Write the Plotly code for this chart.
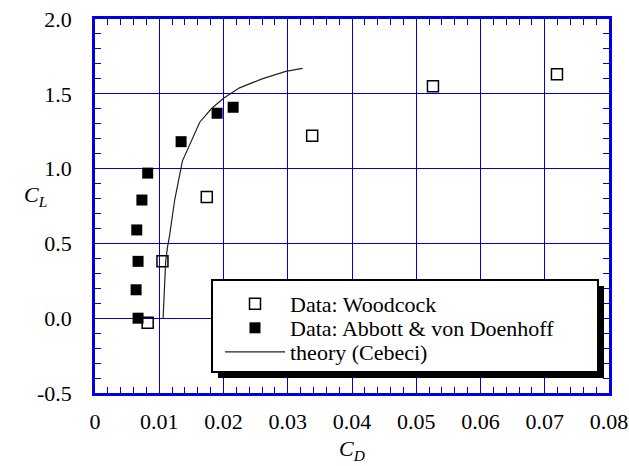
import plotly.graph_objects as go

# Data
wood_cd = [0.0082, 0.0105, 0.0174, 0.0338, 0.0526, 0.0719]
wood_cl = [-0.03, 0.38, 0.81, 1.22, 1.55, 1.63]

abbott_cd = [0.0067, 0.0064, 0.0067, 0.0065, 0.0073, 0.0082, 0.0134, 0.0190, 0.0215]
abbott_cl = [0.0, 0.19, 0.38, 0.59, 0.79, 0.97, 1.18, 1.37, 1.41]

theory_cd = [0.0106, 0.0108, 0.0110, 0.0113, 0.0116, 0.0124, 0.0136, 0.0163,
             0.0181, 0.0200, 0.0225, 0.0260, 0.0297, 0.0323]
theory_cl = [0.0, 0.19, 0.38, 0.48, 0.55, 0.79, 1.05, 1.31,
             1.40, 1.47, 1.54, 1.60, 1.65, 1.67]

x_ticks = [0, 0.01, 0.02, 0.03, 0.04, 0.05, 0.06, 0.07, 0.08]
x_ticklabels = ["0", "0.01", "0.02", "0.03", "0.04", "0.05", "0.06", "0.07", "0.08"]
y_ticks = [-0.5, 0.0, 0.5, 1.0, 1.5, 2.0]
y_ticklabels = ["-0.5", "0.0", "0.5", "1.0", "1.5", "2.0"]

BLUE = "#0000DD"
FONT = "Liberation Serif"

# plot-area geometry in pixels (for paper-coordinate placement of legend pieces)
PL, PR, PT, PB = 95, 609, 19, 393
PW, PH = PR - PL, PB - PT


def px(x):
    return (x - PL) / PW


def py(y):
    return (PB - y) / PH


fig = go.Figure()
fig.add_trace(go.Scatter(
    x=wood_cd, y=wood_cl, mode="markers", name="Data: Woodcock", legend="legend",
    marker=dict(symbol="square-open", size=11, color="black", line=dict(width=1.5, color="black")),
))
fig.add_trace(go.Scatter(
    x=abbott_cd, y=abbott_cl, mode="markers", name="Data: Abbott &amp; von Doenhoff", legend="legend2",
    marker=dict(symbol="square", size=11, color="black"),
))
fig.add_trace(go.Scatter(
    x=theory_cd, y=theory_cl, mode="lines", name="theory (Cebeci)", legend="legend3",
    line=dict(color="#222222", width=1.2),
))

axis_common = dict(
    showline=True, linecolor=BLUE, linewidth=2.5, mirror="allticks",
    showgrid=True, gridcolor=BLUE, gridwidth=1,
    ticks="inside", tickcolor=BLUE, ticklen=6, tickwidth=1,
    zeroline=False, automargin=False,
    tickfont=dict(family=FONT, size=22, color="black"),
)

fig.update_xaxes(
    range=[0, 0.08], tickvals=x_ticks, ticktext=x_ticklabels,
    minor=dict(dtick=0.002, ticks="inside", ticklen=6, tickcolor=BLUE, showgrid=False),
    ticklabelstandoff=7,
    title=dict(text="<i>C<sub>D</sub></i>", font=dict(family=FONT, size=22, color="black"), standoff=8),
    **axis_common,
)
fig.update_yaxes(
    range=[-0.5, 2.0], tickvals=y_ticks, ticktext=y_ticklabels,
    minor=dict(dtick=0.1, ticks="inside", ticklen=6, tickcolor=BLUE, showgrid=False),
    ticklabelstandoff=16,
    **axis_common,
)

# legend box with drop shadow (paper coordinates)
L, R, T, B = px(212), px(598), py(280), py(372)
sx, sy = 6 / PW, 6 / PH
fig.add_shape(type="rect", xref="paper", yref="paper",
              x0=L + sx, x1=R + sx, y0=B - sy, y1=T - sy,
              fillcolor="black", line=dict(width=0), layer="above")
fig.add_shape(type="rect", xref="paper", yref="paper",
              x0=L, x1=R, y0=B, y1=T,
              fillcolor="white", line=dict(width=2, color="black"), layer="above")

fig.add_annotation(text="<i>C<sub>L</sub></i>", xref="paper", yref="paper",
                   x=px(22), y=py(196), showarrow=False,
                   font=dict(family=FONT, size=22, color="black"))

leg_common = dict(
    xanchor="left", yanchor="middle",
    bgcolor="rgba(0,0,0,0)", borderwidth=0,
    font=dict(family=FONT, size=22, color="black"),
    itemwidth=60,
)

fig.update_layout(
    width=629, height=466,
    margin=dict(l=PL, r=629 - PR, t=PT, b=466 - PB),
    paper_bgcolor="white", plot_bgcolor="white",
    font=dict(family=FONT, size=22, color="black"),
    showlegend=True,
    legend=dict(x=px(220), y=py(304), **leg_common),
    legend2=dict(x=px(220), y=py(328), **leg_common),
    legend3=dict(x=px(220), y=py(352), **leg_common),
)

fig.write_html("out.html", config={"displayModeBar": False},
               post_script="document.body.style.margin='0px';")
